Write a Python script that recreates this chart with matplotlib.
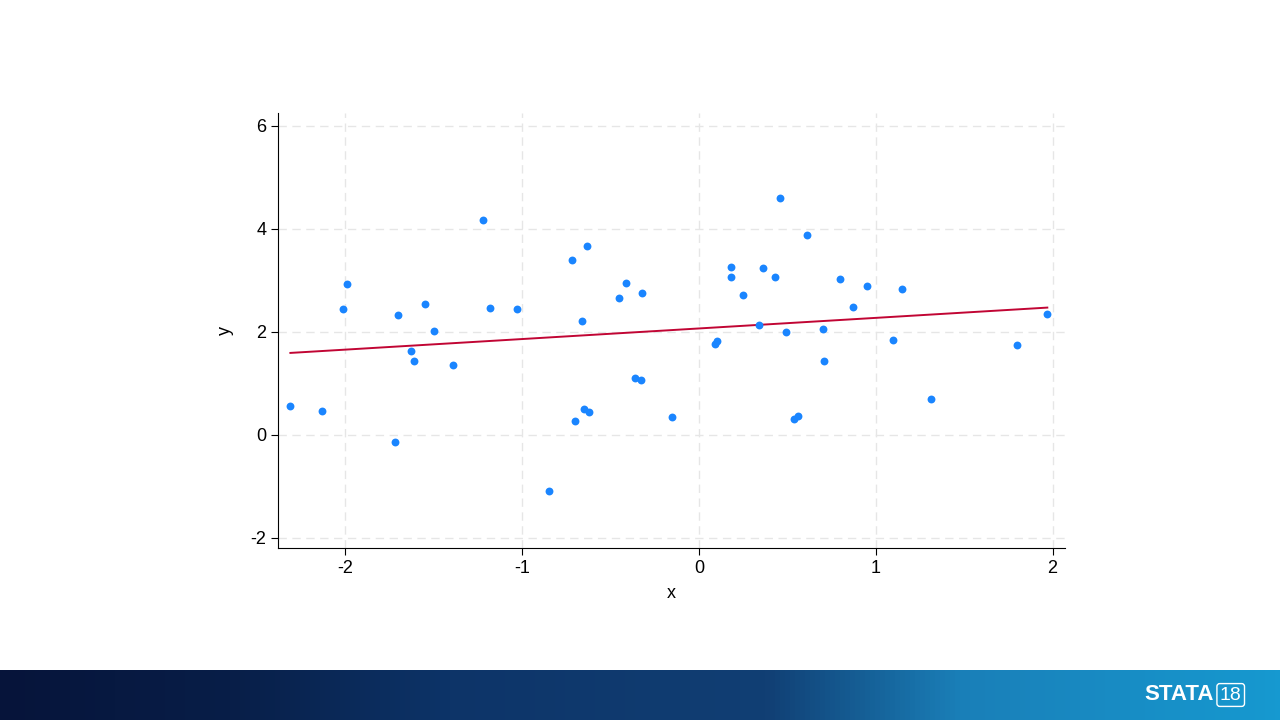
import numpy as np
import matplotlib.pyplot as plt
from matplotlib.colors import LinearSegmentedColormap

plt.rcParams['font.family'] = ['Liberation Sans', 'DejaVu Sans']
plt.rcParams['axes.unicode_minus'] = False

x = [-2.31, -2.13, -2.01, -1.99, -1.72, -1.70, -1.63, -1.61, -1.55, -1.50,
     -1.39, -1.22, -1.18, -1.03, -0.85, -0.72, -0.70, -0.66, -0.65, -0.63,
     -0.62, -0.45, -0.41, -0.36, -0.33, -0.32, -0.15, 0.09, 0.10, 0.18,
     0.18, 0.25, 0.34, 0.36, 0.43, 0.46, 0.49, 0.54, 0.56, 0.61,
     0.70, 0.71, 0.80, 0.87, 0.95, 1.10, 1.15, 1.31, 1.80, 1.97]
y = [0.56, 0.46, 2.44, 2.92, -0.14, 2.32, 1.62, 1.44, 2.54, 2.02,
     1.36, 4.18, 2.46, 2.44, -1.10, 3.40, 0.26, 2.20, 0.50, 3.66,
     0.44, 2.66, 2.94, 1.10, 1.06, 2.76, 0.34, 1.76, 1.82, 3.26,
     3.06, 2.72, 2.14, 3.24, 3.06, 4.60, 2.00, 0.30, 0.36, 3.88,
     2.06, 1.44, 3.02, 2.48, 2.88, 1.84, 2.84, 0.70, 1.74, 2.34]

fig = plt.figure(figsize=(12.8, 7.2), dpi=100)
ax = fig.add_axes([278/1280, 1-548/720, (1065-278)/1280, (548-113)/720])

ax.scatter(x, y, s=32, color='#1a85ff', zorder=3, linewidths=0)
b, a = np.polyfit(x, y, 1)
xs = np.array([min(x), max(x)])
ax.plot(xs, a + b*xs, color='#c10534', lw=1.4, zorder=2)

ax.set_xlim(-2.38, 2.07)
ax.set_ylim(-2.2, 6.25)
ax.set_xticks([-2, -1, 0, 1, 2])
ax.set_yticks([-2, 0, 2, 4, 6])
ax.grid(True, ls=(0, (6, 4)), color='#e6e6e6', lw=1)
ax.set_axisbelow(True)
for s in ['top', 'right']:
    ax.spines[s].set_visible(False)
ax.tick_params(labelsize=13, length=5)
ax.set_xlabel('x', fontsize=13, labelpad=6)
ax.set_ylabel('y', fontsize=13, labelpad=12)

# bottom banner
bax = fig.add_axes([0, 0, 1, 50/720])
cmap = LinearSegmentedColormap.from_list(
    'band', [(0, '#06143a'), (0.18, '#081e48'), (0.35, '#0d3468'),
             (0.6, '#113f74'), (0.75, '#1a7fb8'), (1, '#1699d0')])
bax.imshow(np.linspace(0, 1, 256).reshape(1, -1), aspect='auto', cmap=cmap, extent=[0, 1, 0, 1])
bax.axis('off')
bax.text(0.948, 0.5, 'STATA', color='white', fontsize=16, fontweight='bold',
         ha='right', va='center', transform=bax.transAxes)
bax.text(0.953, 0.5, '18', color='white', fontsize=14, ha='left', va='center',
         transform=bax.transAxes,
         bbox=dict(boxstyle='round,pad=0.15', fc='none', ec='white', lw=1))

fig.savefig('out.png', dpi=100)
